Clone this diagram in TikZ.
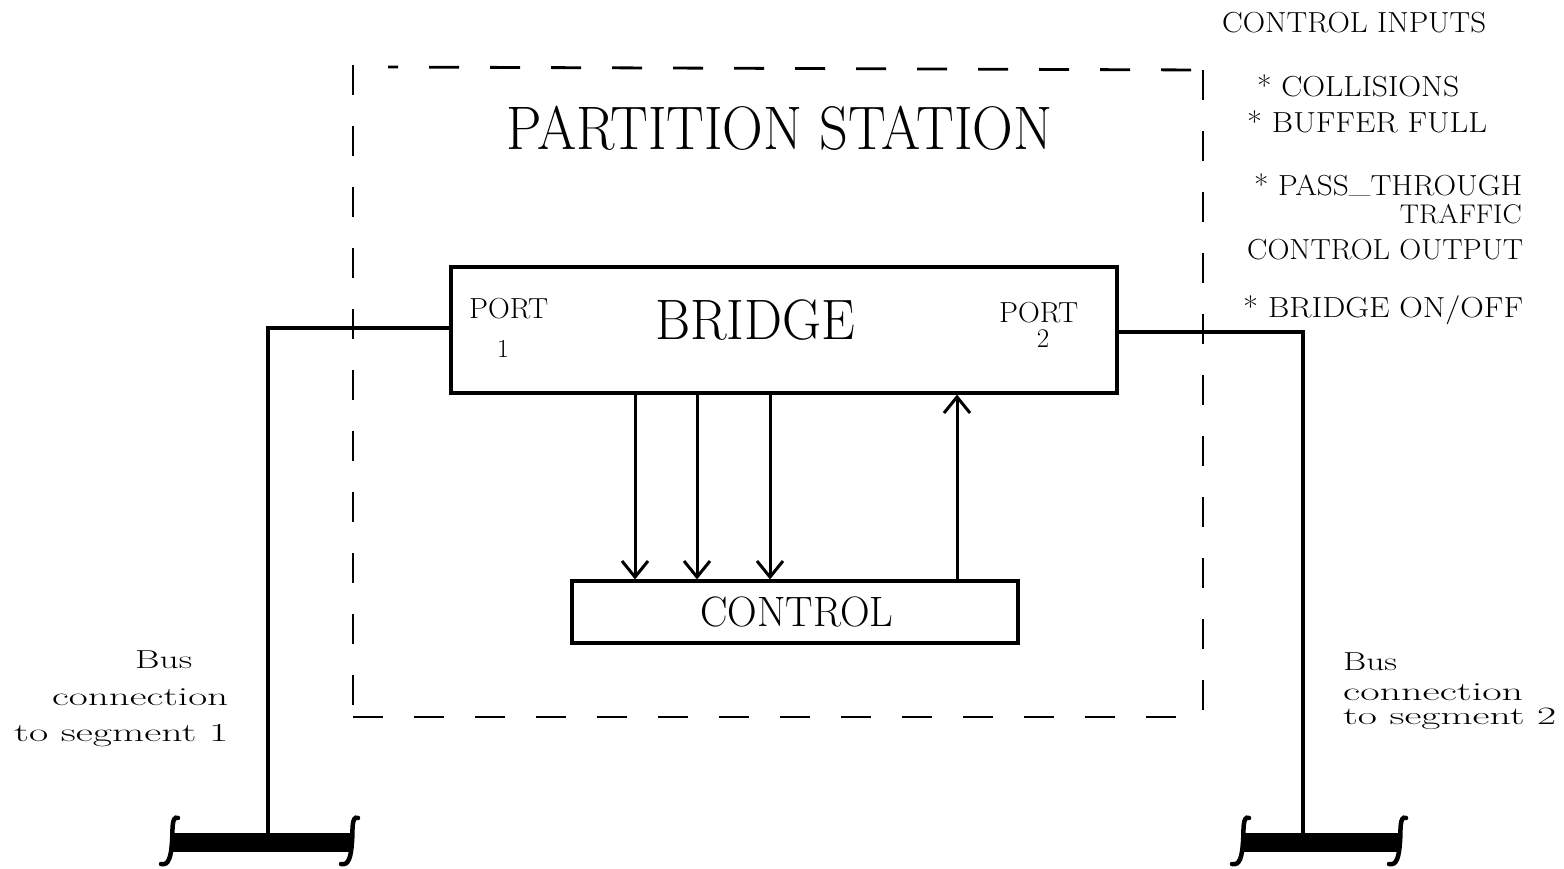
\documentclass[tikz,border=0pt]{standalone}
\usepackage{fontspec}
\usepackage{graphicx}
\usetikzlibrary{arrows.meta}
\newcommand\wtxt[3]{\fontsize{#2}{#2}\selectfont\resizebox{#1pt}{\height}{#3}}
\begin{document}
\begin{tikzpicture}[x=1pt,y=-1pt,
  box/.style={draw,line width=3.2pt,rectangle,inner sep=0pt},
  wire/.style={line width=3.6pt},
  bus/.style={fill=black,draw=none,rectangle,inner sep=0pt,minimum height=19pt},
  arr/.style={line width=3pt,-{Straight Barb[length=16pt,width=26pt,line width=3pt]}},
  lbl/.style={anchor=base west,inner sep=0pt},
  lblc/.style={anchor=base,inner sep=0pt},
  frame/.style={line width=2.8pt,dash pattern=on 30pt off 31pt},
  endcap/.style={line width=4.5pt,line cap=round}]
\useasboundingbox (0,0) rectangle (1564,869);
% dashed partition station boundary
\draw[frame,dash phase=0pt] (353,65) -- (353,717);
\draw[frame,dash phase=20pt] (388,67) -- (1203,70);
\draw[frame,dash phase=0pt] (1203,70) -- (1203,717);
\draw[frame,dash phase=0pt] (353,717) -- (1203,717);
% boxes
\node[box,minimum width=666pt,minimum height=126pt] (bridge) at (784,330) {};
\node[box,minimum width=446pt,minimum height=62pt] (control) at (795,612) {};
% texts inside
\node[lbl] (title) at (506,150) {\wtxt{546}{61.5}{PARTITION STATION}};
\node[lbl] (bridgelbl) at (655,339) {\wtxt{200}{57}{BRIDGE}};
\node[lbl] (p1) at (469,319) {\wtxt{79}{29}{PORT}};
\node[lblc] (p1n) at (503,357) {\fontsize{26}{26}\selectfont 1};
\node[lbl] (p2) at (999,322) {\wtxt{79}{29}{PORT}};
\node[lblc] (p2n) at (1043,347) {\fontsize{27}{27}\selectfont 2};
\node[lbl] (controllbl) at (700,626) {\wtxt{193}{42.5}{CONTROL}};
% arrows
\coordinate (a1) at (635,0);
\coordinate (a2) at (697,0);
\coordinate (a3) at (770,0);
\coordinate (a4) at (957,0);
\draw[arr] (bridge.south -| a1) -- (control.north -| a1);
\draw[arr] (bridge.south -| a2) -- (control.north -| a2);
\draw[arr] (bridge.south -| a3) -- (control.north -| a3);
\draw[arr] (control.north -| a4) -- (bridge.south -| a4);
% buses
\node[bus,minimum width=180pt] (bus1) at (262,842) {};
\node[bus,minimum width=156pt] (bus2) at (1320,842) {};
\coordinate (t1) at (268,834);
\coordinate (t2) at (1303,834);
\draw[wire] ([yshift=2pt]bridge.west) -| (t1);
\draw[wire] ([yshift=-2pt]bridge.east) -| (t2);
% bus end caps
\foreach \x in {172,352,1243,1400}{
  \draw[endcap] (\x+6,818) .. controls (\x-1,815) and (\x+1,832) .. (\x,842)
     .. controls (\x-1,856) and (\x-3,866) .. (\x-11,864);
}
% right labels
\node[lbl] (ci) at (1222,33) {\wtxt{264}{29}{CONTROL INPUTS}};
\node[lbl] (c1) at (1257,97) {\wtxt{202}{29}{* COLLISIONS}};
\node[lbl] (c2) at (1247,133) {\wtxt{240}{29}{* BUFFER FULL}};
\node[lbl] (c3) at (1254,196) {\wtxt{268}{29}{* PASS\raisebox{3pt}{\_}THROUGH}};
\node[anchor=base east,inner sep=0pt] (c3b) at (1522,224) {\wtxt{122}{27}{TRAFFIC}};
\node[lbl] (co) at (1247,260) {\wtxt{276}{29}{CONTROL OUTPUT}};
\node[lbl] (o1) at (1243,317) {\wtxt{280}{29}{* BRIDGE ON\smash{/}OFF}};
% bus labels
\node[lbl] (b1a) at (135,668) {\wtxt{57}{26}{Bus}};
\node[lbl] (b1b) at (52,705) {\wtxt{176}{26}{connection}};
\node[lbl] (b1c) at (14,741) {\wtxt{214}{26}{to segment 1}};
\node[lbl] (b2a) at (1343,670) {\wtxt{54}{26}{Bus}};
\node[lbl] (b2b) at (1343,700) {\wtxt{180}{26}{connection}};
\node[lbl] (b2c) at (1343,724) {\wtxt{213}{25}{to segment 2}};
\end{tikzpicture}
\end{document}
